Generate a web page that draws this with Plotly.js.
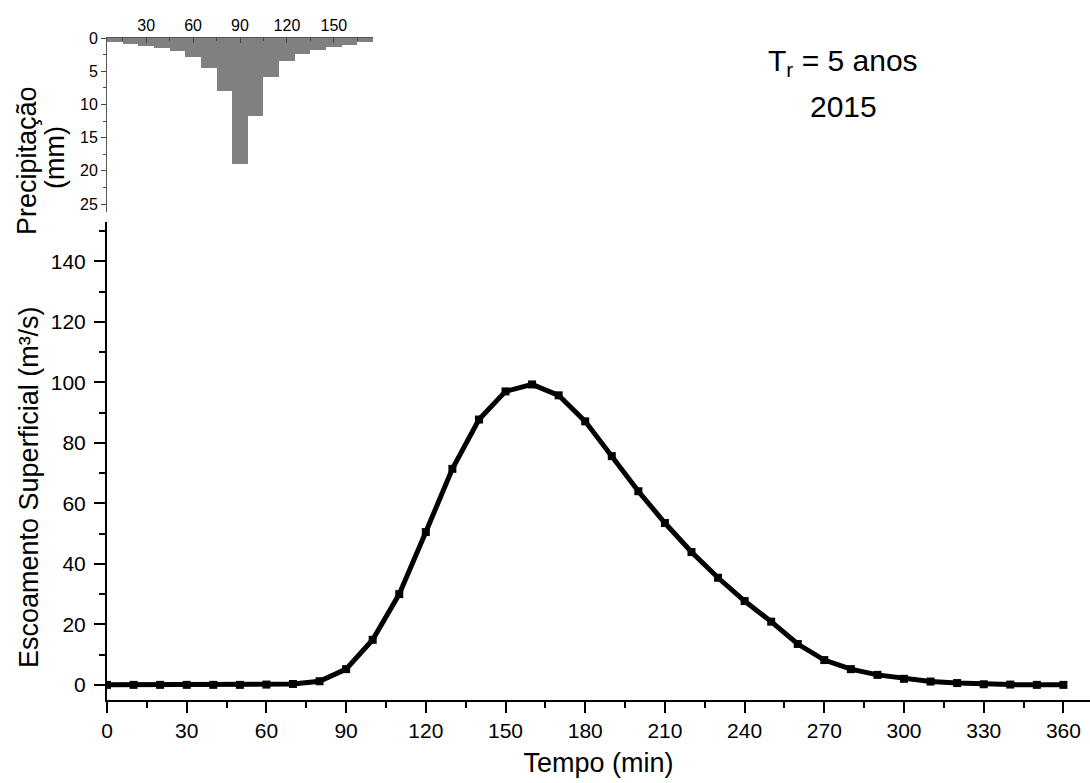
<!DOCTYPE html>
<html>
<head>
<meta charset="utf-8">
<script src="https://cdn.plot.ly/plotly-3.0.1.min.js"></script>
<style>html,body{margin:0;padding:0;background:#fff;}#chart{width:1090px;height:783px;}</style>
</head>
<body>
<div id="chart"></div>
<script>
// Runoff hydrograph (main chart)
const tempo = [0,10,20,30,40,50,60,70,80,90,100,110,120,130,140,150,160,170,180,190,200,210,220,230,240,250,260,270,280,290,300,310,320,330,340,350,360];
const escoamento = [0,0,0,0,0,0,0.1,0.3,1.2,5.2,14.9,30.0,50.5,71.4,87.7,97.0,99.3,95.7,87.1,75.6,64.0,53.5,43.9,35.4,27.7,20.9,13.5,8.2,5.2,3.3,2.0,1.1,0.6,0.2,0.1,0,0];

// Hyetograph (inset)
const tempoChuva = [10,20,30,40,50,60,70,80,90,100,110,120,130,140,150,160,170];
const precipitacao = [0.65,0.9,1.25,1.5,2.0,2.9,4.5,8.0,19.0,11.7,5.9,3.5,2.4,1.75,1.35,1.0,0.65];

const xTickVals = [0,30,60,90,120,150,180,210,240,270,300,330,360];
const yTickVals = [0,20,40,60,80,100,120,140];
const insetXTicks = [30,60,90,120,150];
const insetYTicks = [0,5,10,15,20,25];

const FONT = 'Liberation Sans, Arial, sans-serif';

const traces = [
  {
    type: 'scatter', mode: 'lines+markers',
    x: tempo, y: escoamento,
    xaxis: 'x', yaxis: 'y',
    line: {color: '#000', width: 5},
    marker: {symbol: 'square', size: 8, color: '#000'},
    hoverinfo: 'x+y'
  },
  {
    type: 'bar',
    x: tempoChuva, y: precipitacao,
    xaxis: 'x2', yaxis: 'y2',
    width: 10,
    marker: {color: '#808080', line: {width: 0}},
    hoverinfo: 'x+y'
  }
];

const layout = {
  width: 1090, height: 783,
  paper_bgcolor: '#fff', plot_bgcolor: 'rgba(0,0,0,0)',
  margin: {l: 107, r: 0, t: 38, b: 83},
  showlegend: false,
  bargap: 0,
  font: {family: FONT, color: '#000'},
  xaxis: {
    domain: [0, 1], range: [0, 370], anchor: 'y',
    tickvals: xTickVals, ticks: 'outside', ticklen: 11, tickwidth: 2, tickcolor: '#000',
    minor: {dtick: 15, tick0: 0, ticks: 'outside', ticklen: 6, tickwidth: 2, tickcolor: '#000'},
    showline: true, linecolor: '#000', linewidth: 2,
    showgrid: false, zeroline: false,
    tickfont: {size: 21, family: FONT},
    title: {text: 'Tempo (min)', font: {size: 27, family: FONT}, standoff: 12}
  },
  yaxis: {
    domain: [0, 0.7221], range: [-5, 153], anchor: 'x',
    tickvals: yTickVals, ticks: 'outside', ticklen: 11, tickwidth: 2, tickcolor: '#000',
    minor: {dtick: 10, tick0: 0, ticks: 'outside', ticklen: 6, tickwidth: 2, tickcolor: '#000'},
    showline: true, linecolor: '#000', linewidth: 2,
    showgrid: false, zeroline: false,
    ticklabelstandoff: 4,
    tickfont: {size: 21, family: FONT}
  },
  xaxis2: {
    domain: [0, 0.2706], range: [5, 175], anchor: 'y2', side: 'top',
    tickvals: insetXTicks, ticks: 'inside', ticklen: 5, tickwidth: 1, tickcolor: '#444',
    minor: {dtick: 15, tick0: 0, ticks: 'inside', ticklen: 3, tickwidth: 1, tickcolor: '#444'},
    showline: true, linecolor: '#555', linewidth: 1,
    showgrid: false, zeroline: false,
    tickfont: {size: 16, family: FONT}
  },
  yaxis2: {
    domain: [0.7372, 1], range: [26.2, 0], anchor: 'x2',
    tickvals: insetYTicks, ticks: 'outside', ticklen: 5, tickwidth: 1, tickcolor: '#444',
    minor: {dtick: 2.5, tick0: 0, ticks: 'outside', ticklen: 3, tickwidth: 1, tickcolor: '#444'},
    showline: true, linecolor: '#555', linewidth: 1,
    showgrid: false, zeroline: false,
    tickfont: {size: 16, family: FONT}
  },
  annotations: [
    {text: 'Escoamento Superficial (m³/s)', xref: 'paper', yref: 'paper',
     x: (29 - 107) / 983, y: (700 - 487) / 662, textangle: -90, showarrow: false,
     xanchor: 'center', yanchor: 'middle', font: {size: 27, family: FONT}},
    {text: 'Precipitação', xref: 'paper', yref: 'paper',
     x: (27 - 107) / 983, y: (700 - 161) / 662, textangle: -90, showarrow: false,
     xanchor: 'center', yanchor: 'middle', font: {size: 27, family: FONT}},
    {text: '(mm)', xref: 'paper', yref: 'paper',
     x: (55 - 107) / 983, y: (700 - 158) / 662, textangle: -90, showarrow: false,
     xanchor: 'center', yanchor: 'middle', font: {size: 27, family: FONT}},
    {text: 'T<sub>r</sub> = 5 anos', xref: 'paper', yref: 'paper',
     x: (843 - 107) / 983, y: (700 - 62) / 662, showarrow: false,
     xanchor: 'center', yanchor: 'middle', font: {size: 30, family: FONT}},
    {text: '2015', xref: 'paper', yref: 'paper',
     x: (843 - 107) / 983, y: (700 - 107) / 662, showarrow: false,
     xanchor: 'center', yanchor: 'middle', font: {size: 30, family: FONT}}
  ]
};

Plotly.newPlot('chart', traces, layout, {displayModeBar: false, staticPlot: true});
</script>
</body>
</html>
